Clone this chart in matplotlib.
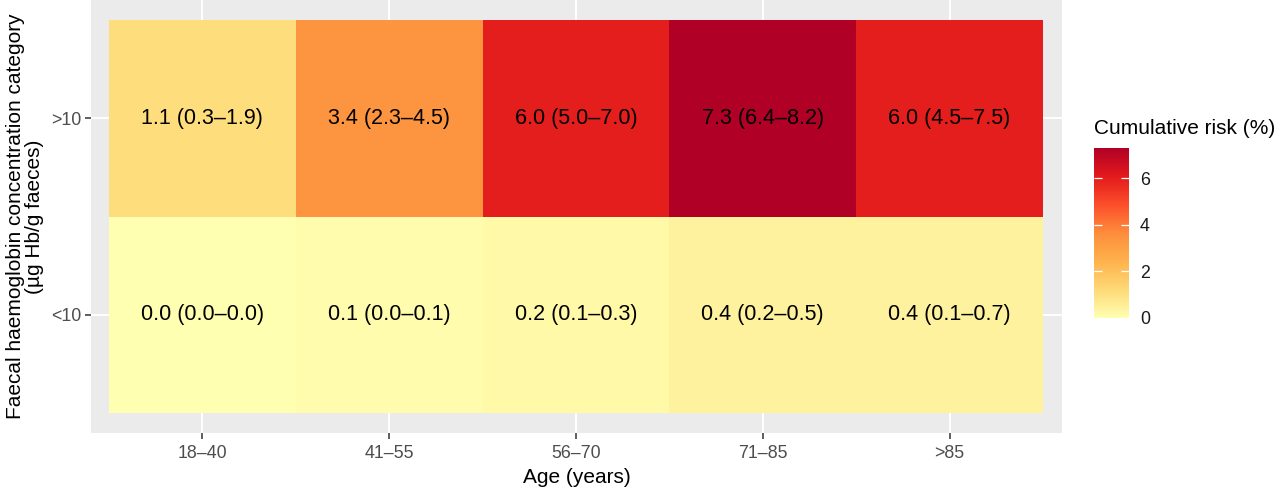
import numpy as np
import matplotlib
matplotlib.use('Agg')
import matplotlib.pyplot as plt
from matplotlib.colors import LinearSegmentedColormap, Normalize
from matplotlib.cm import ScalarMappable

plt.rcParams['font.family'] = ['Liberation Sans', 'DejaVu Sans']

# data
ages = ['18\u201340', '41\u201355', '56\u201370', '71\u201385', '>85']
fhb_cats = ['<10', '>10']
risk_low = [0.0, 0.1, 0.2, 0.4, 0.4]
ci_low_lo = [0.0, 0.0, 0.1, 0.2, 0.1]
ci_low_hi = [0.0, 0.1, 0.3, 0.5, 0.7]
risk_high = [1.1, 3.4, 6.0, 7.3, 6.0]
ci_high_lo = [0.3, 2.3, 5.0, 6.4, 4.5]
ci_high_hi = [1.9, 4.5, 7.0, 8.2, 7.5]

# ColorBrewer YlOrRd (7 classes), as in scale_fill_distiller
YLORRD = ['#FFFFB2', '#FED976', '#FEB24C', '#FD8D3C', '#FC4E2A', '#E31A1C', '#B10026']
cmap = LinearSegmentedColormap.from_list('ylorrd', YLORRD)

W, H = 1280, 487
fig = plt.figure(figsize=(W / 100, H / 100), dpi=100)
ax = fig.add_axes([91 / W, (H - 433) / H, (1062 - 91) / W, 433 / H])
ax.set_facecolor('#EBEBEB')

grid = np.array([risk_low, risk_high])
vmax = grid.max()
norm = Normalize(vmin=0, vmax=vmax)

xe = np.arange(len(ages) + 1) + 0.5
ye = np.arange(len(fhb_cats) + 1) + 0.5

# white major grid under the tiles
for xv in range(1, len(ages) + 1):
    ax.axvline(xv, color='white', lw=1.4, zorder=0)
for yv in range(1, len(fhb_cats) + 1):
    ax.axhline(yv, color='white', lw=1.4, zorder=0)

ax.pcolormesh(xe, ye, grid, cmap=cmap, norm=norm, zorder=1)

rows = [(risk_low, ci_low_lo, ci_low_hi), (risk_high, ci_high_lo, ci_high_hi)]
for j, (r, lo, hi) in enumerate(rows):
    for i in range(len(ages)):
        ax.text(i + 1, j + 1, f"{r[i]:.1f} ({lo[i]:.1f}\u2013{hi[i]:.1f})",
                ha='center', va='center', fontsize=15.5, color='black', zorder=3)

ax.set_xlim(0.5 - 18 / 187, len(ages) + 0.5 + 19 / 187)
ax.set_ylim(0.5 - 20 / 196.5, len(fhb_cats) + 0.5 + 20 / 196.5)
ax.set_xticks(range(1, len(ages) + 1))
ax.set_xticklabels(ages)
ax.set_yticks(range(1, len(fhb_cats) + 1))
ax.set_yticklabels(fhb_cats)
ax.tick_params(axis='both', length=4, width=1.1, color='#333333',
               labelcolor='#4D4D4D', labelsize=12.8, pad=3)
ax.tick_params(axis='x', pad=5)
for s in ax.spines.values():
    s.set_visible(False)

ax.set_xlabel('Age (years)', fontsize=15, labelpad=4)
ax.set_ylabel('Faecal haemoglobin concentration category\n(\u00b5g Hb/g faeces)',
              fontsize=15, labelpad=5, linespacing=1.0)

# colourbar legend
cax = fig.add_axes([1094 / W, (H - 318) / H, 35 / W, 170 / H])
cb = fig.colorbar(ScalarMappable(norm=norm, cmap=cmap), cax=cax, ticks=[0, 2, 4, 6])
cb.outline.set_visible(False)
cax.tick_params(direction='in', color='white', length=6, width=0.9,
                labelsize=12.8, labelcolor='#1A1A1A', pad=8, left=True, right=True)
fig.text(1094 / W, 1 - 128 / H, 'Cumulative risk (%)', fontsize=15,
         ha='left', va='center')

fig.savefig('out.png', dpi=100)
